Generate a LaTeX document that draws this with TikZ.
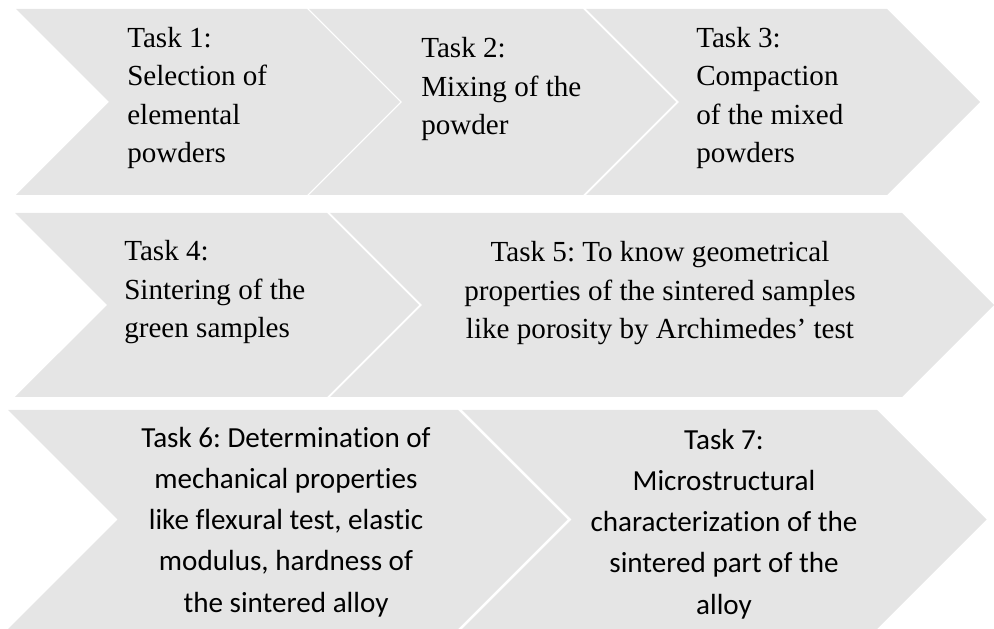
\documentclass[tikz,border=0pt]{standalone}
\usepackage{fontspec}
\setmainfont{Liberation Serif}
\newfontfamily\calibrifont[Ligatures={NoCommon,NoRare}]{Carlito}
\definecolor{chevgray}{HTML}{E5E5E5}
\frenchspacing
\tikzset{
	chev/.style={fill=chevgray},
	taskserif/.style={inner sep=0pt, align=left, font=\fontsize{20.7}{27.4}\selectfont},
	tasksans/.style={inner sep=0pt, align=center, font=\calibrifont\fontsize{20.7}{29.2}\selectfont}
}

\begin{document}
\begin{tikzpicture}[x=0.025cm, y=-0.025cm]
		\useasboundingbox (0,0) rectangle (994,629);
		% chevrons: left edge / right edge / top / bottom
		\foreach \xl/\xr/\yt/\yb in {16/307/9/195, 309/583/9/195, 586/887/9/195,
			15/327/213/397, 330/902/213/397, 8/458/410/629, 462/877/410/629}
			\fill[chev] (\xl,\yt) -- (\xr,\yt) -- ({\xr+(\yb-\yt)/2},{(\yt+\yb)/2}) -- (\xr,\yb)
				-- (\xl,\yb) -- ({\xl+(\yb-\yt)/2},{(\yt+\yb)/2}) -- cycle;
		
		% texts, placed by the baseline of their last line
		\node[taskserif, anchor=base west] (task1) at (127,163) {Task 1:\\Selection of\\elemental\\powders};
		\node[taskserif, anchor=base west] (task2) at (421,135) {Task 2:\\Mixing of the\\powder};
		\node[taskserif, anchor=base west] (task3) at (696,163) {Task 3:\\Compaction\\of the mixed\\powders};
		\node[taskserif, anchor=base west] (task4) at (124,338) {Task 4:\\Sintering of the\\green samples};
		\node[taskserif, align=center, anchor=base] (task5) at (660,339) {Task 5: To know geometrical\\properties of the sintered samples\\like porosity by Archimedes’ test};
		\node[tasksans, anchor=base] (task6) at (286,612) {Task 6: Determination of\\mechanical properties\\like flexural test, elastic\\modulus, hardness of\\the sintered alloy};
		\node[tasksans, anchor=base] (task7) at (724,614) {Task 7:\\Microstructural\\characterization of the\\sintered part of the\\alloy};
	\end{tikzpicture}
\end{document}
